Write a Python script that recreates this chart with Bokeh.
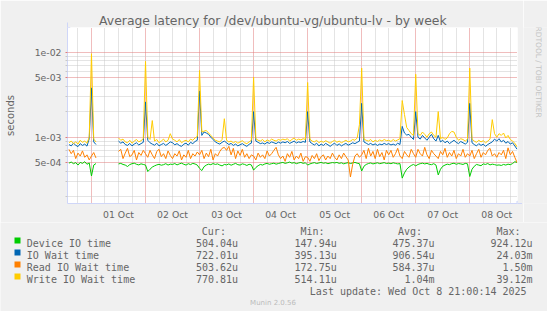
import numpy as np
from bokeh.plotting import figure
from bokeh.layouts import column, row
from bokeh.models import (Range1d, FixedTicker, Arrow, NormalHead, CustomJSTickFormatter)
from bokeh.core.properties import value
from bokeh.embed import file_html
from bokeh.resources import INLINE

# ---------------- data (hours relative to 01 Oct 00:00, values in microseconds) ----
hours = list(range(-10, 190))

device_us = [
    495, 510, 488, 502, 470, 505, 492, 515, 480, 498, 350, 470, 490,
    None, None, None, None, None, None, None, None, None,
    485, 492, 478, 470, 452, 476, 488, 495, 480, 472, 486, 478,
    470, 395, 420, 445, 460, 472, 480, 468, 475, 488, 470, 482,
    478, 490, 472, 485, 495, 480, 470, 488, 476, 492, 484, 470,
    430, 405, 450, 470, 482, 475, 490, 478, 485, 470, 460, 478,
    472, 485, 468, 480, 492, 475, 470, 486, 478, 465, 480, 472,
    410, 440, 462, 478, 470, 485, 492, 480, 488, 495, 482, 490,
    498, 505, 492, 500, 510, 495, 502, 488, 498, 505, 492, 500,
    470, 485, 495, 502, 490, 498, 505, 494, 500, 488, 496, 503,
    498, 505, 492, 500, 486, 495, 502, 490, 498, 505, 494, 488,
    400, 455, 478, 490, 498, 485, 492, 500, 488, 495, 502, 490,
    495, 488, 500, 492, 485, 490, 330, 380, 420, 445, 465, 478,
    460, 478, 488, 495, 485, 492, 480, 475, 488, 470, 360, 420,
    455, 470, 482, 475, 488, 495, 480, 490, 485, 478, 492, 486,
    345, 420, 455, 478, 470, 462, 485, 478, 490, 472, 482, 476,
    468, 472, 465, 478, 470, 482, 475, 490, 515, 504,
]

iowait_us = [
    820, 790, 850, 805, 775, 840, 800, 830, 785, 960, 3800, 880, 820,
    None, None, None, None, None, None, None, None, None,
    900, 850, 880, 820, 800, 845, 790, 830, 860, 810, 840, 870,
    2600, 920, 860, 830, 805, 850, 790, 820, 845, 800, 835, 880,
    860, 815, 840, 800, 780, 830, 850, 805, 870, 840, 890, 920,
    3500, 1050, 1150, 1120, 1080, 1000, 940, 880, 850, 830, 870, 900,
    860, 820, 845, 800, 830, 790, 815, 840, 805, 780, 825, 850,
    2000, 900, 870, 840, 855, 830, 870, 845, 880, 860, 840, 875,
    850, 880, 860, 890, 845, 870, 900, 855, 880, 865, 890, 870,
    2000, 880, 840, 810, 850, 790, 830, 800, 845, 815, 780, 820,
    850, 800, 835, 790, 820, 845, 805, 830, 860, 840, 870, 900,
    2500, 880, 850, 820, 845, 810, 835, 800, 830, 815, 845, 820,
    840, 810, 830, 805, 850, 820, 1340, 1120, 1060, 1080, 1000, 940,
    2000, 1000, 950, 1050, 980, 920, 1000, 1080, 960, 900, 1050, 880,
    920, 860, 900, 840, 880, 920, 870, 840, 890, 860, 830, 870,
    2500, 860, 820, 790, 840, 800, 830, 780, 820, 850, 880, 950,
    900, 960, 880, 920, 850, 890, 830, 860, 790, 722,
]

read_us = [
    720, 640, 700, 560, 650, 600, 690, 580, 620, 540, 600, 660, 570,
    None, None, None, None, None, None, None, None, None,
    680, 720, 560, 650, 740, 590, 620, 700, 540, 660, 610, 700,
    640, 580, 700, 620, 560, 680, 720, 590, 640, 560, 690, 610,
    560, 640, 600, 690, 540, 620, 580, 700, 560, 640, 600, 670,
    620, 700, 560, 650, 590, 720, 540, 640, 600, 680, 740, 760,
    700, 780, 620, 740, 560, 690, 610, 720, 580, 640, 560, 620,
    600, 540, 650, 580, 620, 560, 690, 600, 640, 700, 760, 620,
    560, 600, 520, 640, 580, 680, 540, 600, 560, 650, 520, 590,
    580, 520, 610, 560, 640, 530, 590, 620, 540, 600, 560, 650,
    580, 540, 620, 560, 650, 590, 540, 340, 480, 600, 640, 580,
    620, 700, 560, 740, 600, 680, 560, 720, 590, 660, 540, 700,
    620, 700, 580, 640, 740, 600, 560, 680, 620, 580, 720, 640,
    580, 720, 640, 600, 760, 620, 560, 700, 640, 600, 560, 680,
    620, 740, 580, 660, 600, 700, 560, 640, 600, 720, 580, 640,
    600, 700, 560, 640, 720, 580, 660, 620, 700, 740, 600, 640,
    580, 660, 620, 700, 560, 750, 620, 680, 580, 504,
]

write_us = [
    860, 900, 840, 880, 830, 920, 870, 900, 850, 1000, 9600, 950, 880,
    None, None, None, None, None, None, None, None, None,
    980, 920, 950, 880, 860, 920, 850, 900, 940, 880, 910, 960,
    7800, 1000, 940, 1570, 900, 940, 860, 900, 950, 880, 920, 1100,
    950, 920, 880, 940, 860, 900, 920, 880, 950, 920, 980, 1020,
    6100, 1150, 1180, 1200, 1120, 1050, 980, 920, 900, 880, 940, 1650,
    920, 880, 900, 860, 890, 850, 880, 910, 860, 840, 880, 920,
    5100, 960, 920, 900, 940, 880, 930, 900, 950, 920, 900, 940,
    920, 950, 930, 960, 900, 940, 980, 920, 950, 930, 960, 940,
    4400, 950, 900, 880, 920, 860, 900, 870, 910, 880, 850, 890,
    920, 870, 900, 860, 890, 920, 880, 900, 940, 920, 980, 1400,
    6500, 950, 920, 900, 940, 880, 920, 890, 930, 900, 940, 910,
    920, 890, 940, 900, 930, 960, 2700, 1850, 1300, 1200, 1100, 1050,
    5500, 1100, 1050, 1150, 1080, 1000, 1100, 1150, 1050, 1000, 2000, 960,
    1000, 940, 980, 1100, 1170, 1150, 1000, 920, 960, 940, 900, 950,
    6500, 950, 900, 870, 920, 880, 910, 860, 900, 950, 1610, 1100,
    1000, 1100, 1050, 1120, 980, 1050, 940, 900, 850, 771,
]

series_names = ["Device IO time", "IO Wait time", "Read IO Wait time", "Write IO Wait time"]
series_colors = ["#00CC00", "#0066B3", "#FF8000", "#FFCC00"]
cur_vals = ["504.04u", "722.01u", "503.62u", "770.81u"]
min_vals = ["147.94u", "395.13u", "172.75u", "514.11u"]
avg_vals = ["475.37u", "906.54u", "584.37u", "1.04m"]
max_vals = ["924.12u", "24.03m", "1.50m", "39.12m"]
stat_heads = ["Cur:", "Min:", "Avg:", "Max:"]

day_labels = ["01 Oct", "02 Oct", "03 Oct", "04 Oct", "05 Oct", "06 Oct", "07 Oct", "08 Oct"]
day_label_hours = [12, 36, 60, 84, 108, 132, 156, 180]
midnight_hours = [0, 24, 48, 72, 96, 120, 144, 168]
six_hour_marks = [-6, 6, 12, 18, 30, 36, 42, 54, 60, 66, 78, 84, 90, 102, 108, 114,
                  126, 132, 138, 150, 156, 162, 174, 180, 186]
y_major = [5e-4, 1e-3, 5e-3, 1e-2]
y_minor = [2e-4, 3e-4, 4e-4, 6e-4, 7e-4, 8e-4, 9e-4,
           2e-3, 3e-3, 4e-3, 6e-3, 7e-3, 8e-3, 9e-3]

title_text = "Average latency for /dev/ubuntu-vg/ubuntu-lv - by week"
update_text = "Last update: Wed Oct  8 21:00:14 2025"
vendor_text = "RRDTOOL / TOBI OETIKER"
version_text = "Munin 2.0.56"

# ---------------- layout constants ----------------
W, H = 547, 311
FL, FT, FW, FH = 67, 27, 450, 176
TOP_H = 222                      # height of chart strip (frame + x labels)
SIDE_W = 24                      # strip right of the chart
MAIN_W = W - SIDE_W
X0, X1 = -10.65, 189.2
Y0, Y1 = 10 ** -3.78, 10 ** -1.7094
TEXT = "#666666"
AXIS = "#CFD6F8"
BG = "#F0F0F0"
MAJ = "#e07a7a"
MIN = "#c8c8c8"

p = figure(width=MAIN_W, height=TOP_H, y_axis_type="log",
           x_range=Range1d(X0, X1), y_range=Range1d(Y0, Y1),
           output_backend="svg", toolbar_location=None,
           min_border_left=FL, min_border_right=MAIN_W - FL - FW,
           min_border_top=FT, min_border_bottom=TOP_H - FT - FH)
p.background_fill_color = "white"
p.border_fill_color = BG
p.outline_line_color = None

p.title.text = title_text
p.title.align = "left"
p.title.offset = 98.6 - FL
p.title.standoff = 0
p.title.text_font = "DejaVu Sans"
p.title.text_font_size = "12.4px"
p.title.text_font_style = "normal"
p.title.text_color = TEXT

# grids
p.xgrid.ticker = FixedTicker(ticks=midnight_hours, minor_ticks=six_hour_marks)
p.xgrid.grid_line_color = MAJ
p.xgrid.grid_line_dash = "1 1"
p.xgrid.minor_grid_line_color = MIN
p.xgrid.minor_grid_line_dash = "1 1"

p.yaxis.ticker = FixedTicker(ticks=y_major, minor_ticks=y_minor)
p.ygrid.grid_line_color = MAJ
p.ygrid.grid_line_dash = "1 1"
p.ygrid.minor_grid_line_color = MIN
p.ygrid.minor_grid_line_dash = "1 1"

# axes
p.xaxis.ticker = FixedTicker(ticks=day_label_hours, minor_ticks=[])
p.xaxis.major_label_overrides = {h: l for h, l in zip(day_label_hours, day_labels)}
p.xaxis.major_tick_line_color = None
p.xaxis.minor_tick_line_color = None
p.xaxis.major_tick_out = 0
p.xaxis.major_label_standoff = 5
p.yaxis.formatter = CustomJSTickFormatter(code="""
const s = tick.toExponential(0); const parts = s.split('e');
const n = parseInt(parts[1]);
return parts[0] + 'e' + (n < 0 ? '-' : '+') + String(Math.abs(n)).padStart(2, '0');
""")
p.yaxis.major_tick_out = 2
p.yaxis.major_tick_in = 0
p.yaxis.minor_tick_out = 2
p.yaxis.minor_tick_in = 0
p.yaxis.major_tick_line_color = MAJ
p.yaxis.minor_tick_line_color = MIN
p.yaxis.major_label_standoff = 4
p.yaxis.axis_label = "seconds"
p.yaxis.axis_label_standoff = 16
p.yaxis.axis_label_text_font_style = "normal"
p.yaxis.axis_label_text_font = "DejaVu Sans"
p.yaxis.axis_label_text_font_size = "10px"
p.yaxis.axis_label_text_color = TEXT
for ax in (p.xaxis, p.yaxis):
    ax.axis_line_color = AXIS
    ax.major_label_text_font = "DejaVu Sans"
    ax.major_label_text_font_size = "9.3px"
    ax.major_label_text_color = TEXT

# data
t = np.array(hours, dtype=float)
for vals, col in zip([device_us, iowait_us, read_us, write_us], series_colors):
    v = np.array(vals, dtype=float) * 1e-6
    p.line(t, v, line_color=col, line_width=1)

# axis arrows
p.add_layout(Arrow(end=NormalHead(size=5, fill_color=AXIS, line_color=AXIS),
                   x_start=X1, y_start=Y0, x_end=X1 + 2.0, y_end=Y0,
                   line_color=AXIS, line_width=1))
p.add_layout(Arrow(end=NormalHead(size=5, fill_color=AXIS, line_color=AXIS),
                   x_start=X0, y_start=Y1, x_end=X0, y_end=Y1 * 10 ** (5 / 85),
                   line_color=AXIS, line_width=1))


def blank(w, h):
    f = figure(width=w, height=h, x_range=Range1d(0, w), y_range=Range1d(h, 0),
               output_backend="svg", toolbar_location=None,
               x_axis_location=None, y_axis_location=None, min_border=0)
    f.grid.visible = False
    f.outline_line_color = None
    f.background_fill_color = BG
    f.border_fill_color = BG
    return f


# side strip with vendor text (canvas x offset MAIN_W)
side = blank(SIDE_W, TOP_H)
side.text(x=[537.5 - MAIN_W], y=[53], text=[vendor_text], angle=-np.pi / 2,
          text_font=value("DejaVu Sans"), text_font_size=value("7.5px"),
          text_color="#c4c4c4", text_align=value("center"),
          text_baseline=value("middle"))

# legend strip (canvas y offset TOP_H)
leg = blank(W, H - TOP_H)
mono = dict(text_font=value("DejaVu Sans Mono"), text_font_size=value("10px"),
            text_color=TEXT, text_baseline=value("alphabetic"))
head_x = [225.4, 324.0, 421.6, 520.0]
val_x = [237.6, 336.2, 434.1, 532.1]
leg.text(x=head_x, y=[231.0 - TOP_H] * 4, text=stat_heads,
         text_align=value("right"), **mono)
row_y = [243.0 + i * 12.0 - TOP_H for i in range(4)]
leg.rect(x=[17.0] * 4, y=[y - 3.0 for y in row_y], width=6, height=6,
         fill_color=series_colors, line_color=None)
leg.text(x=[26.3] * 4, y=row_y, text=series_names, text_align=value("left"), **mono)
for vx, vals in zip(val_x, [cur_vals, min_vals, avg_vals, max_vals]):
    leg.text(x=[vx] * 4, y=row_y, text=vals, text_align=value("right"), **mono)
leg.text(x=[532.1], y=[291.0 - TOP_H], text=[update_text], text_align=value("right"), **mono)
leg.text(x=[272.5], y=[302.3 - TOP_H], text=[version_text], text_align=value("center"),
         text_font=value("DejaVu Sans"), text_font_size=value("7px"),
         text_color="#bbbbbb", text_baseline=value("alphabetic"))

layout = column(row(p, side, spacing=0), leg, spacing=0)
open("out.html", "w").write(file_html(layout, INLINE))
